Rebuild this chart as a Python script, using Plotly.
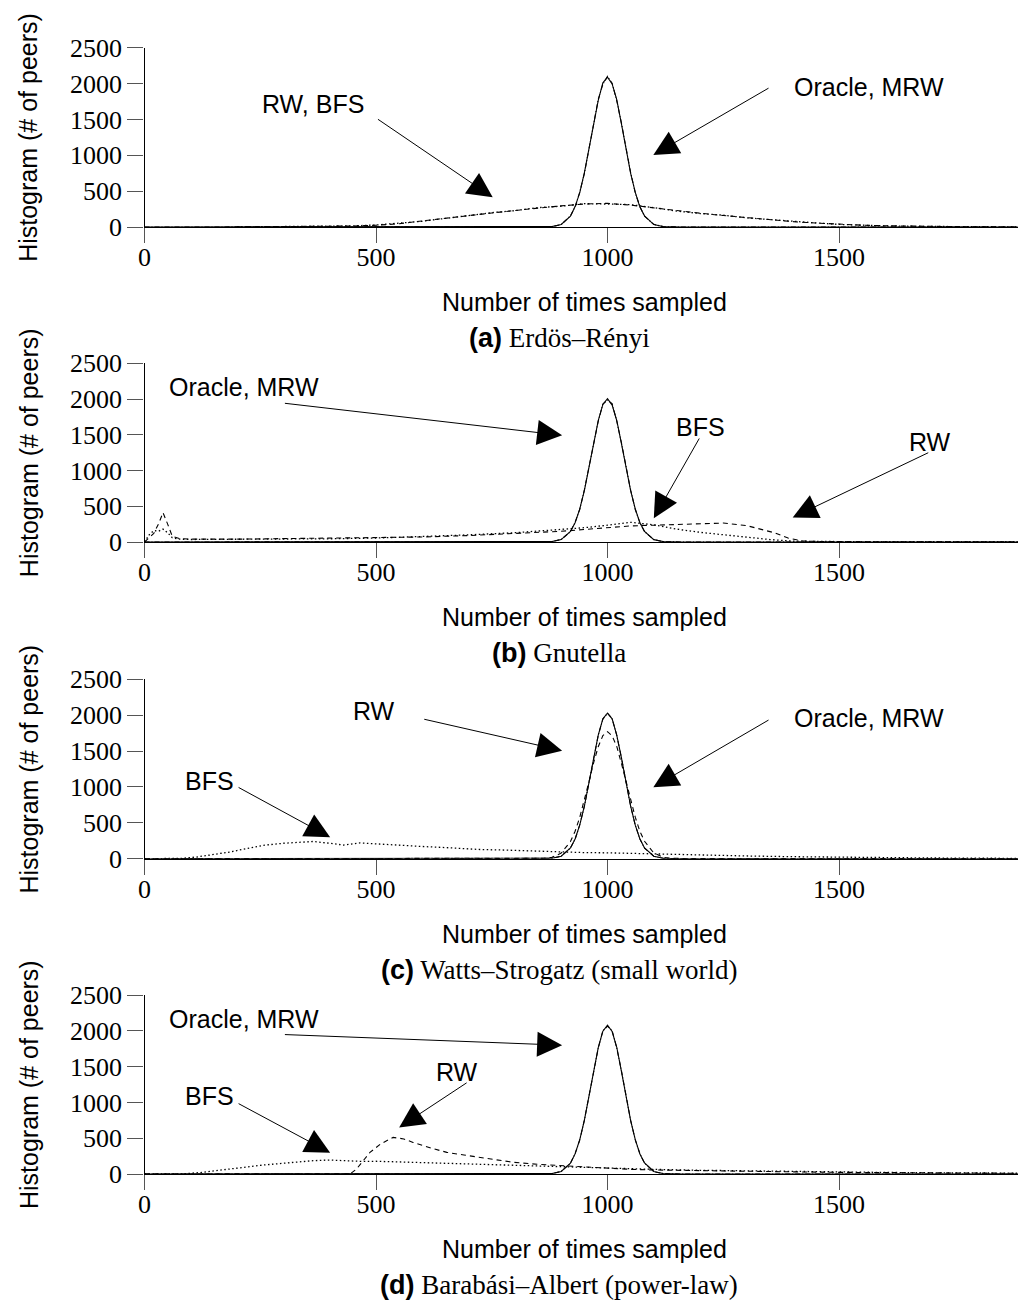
import plotly.graph_objects as go

W, H = 1018, 1304

# ---------------------------------------------------------------------------
# Histogram data: number of peers vs. number of times each peer was sampled
# ---------------------------------------------------------------------------
X_TICKS = [0, 500, 1000, 1500]
Y_TICKS = [0, 500, 1000, 1500, 2000, 2500]

# common sample grid for the narrow peaks around 1000
PEAK_X = [0, 840, 860, 880, 900, 920, 930, 940, 950, 960,
          970, 980, 990, 1000, 1010, 1020, 1030, 1040, 1050, 1060,
          1070, 1080, 1100, 1120, 1140, 1160, 1886]

# (a) Erdös–Rényi
ER_ORACLE = [0, 0, 1, 6, 36, 150, 285, 476, 755, 1080,
             1450, 1765, 2010, 2090, 1995, 1775, 1440, 1090, 748, 483,
             278, 155, 34, 6, 1, 0, 0]
ER_MRW = [0, 0, 1, 5, 33, 156, 278, 485, 745, 1092,
          1438, 1778, 1990, 2100, 2005, 1760, 1452, 1078, 757, 476,
          285, 150, 37, 5, 1, 0, 0]
ER_WIDE_X = [200, 300, 400, 450, 500, 550, 600, 650, 700, 750,
             800, 850, 900, 950, 1000, 1050, 1100, 1150, 1200, 1250,
             1300, 1350, 1400, 1450, 1500, 1550, 1600, 1700, 1800, 1886]
ER_RW = [0, 2, 8, 14, 25, 45, 85, 125, 160, 195,
         230, 265, 295, 320, 330, 305, 265, 225, 192, 160,
         132, 100, 75, 55, 38, 26, 17, 7, 2, 0]
ER_BFS = [0, 3, 9, 16, 28, 50, 80, 120, 165, 200,
          228, 270, 290, 325, 320, 312, 270, 222, 188, 165,
          128, 104, 72, 57, 36, 27, 15, 8, 3, 1]

# (b) Gnutella
GN_ORACLE = [0, 0, 1, 6, 34, 147, 270, 460, 720, 1042,
             1386, 1698, 1925, 2005, 1915, 1700, 1380, 1045, 718, 462,
             268, 148, 33, 6, 1, 0, 0]
GN_MRW = [0, 0, 1, 5, 36, 144, 274, 455, 728, 1035,
          1392, 1690, 1930, 1985, 1935, 1690, 1392, 1038, 725, 455,
          272, 145, 35, 5, 1, 0, 0]
GN_RW_X = [0, 10, 20, 30, 40, 50, 60, 75, 100, 200,
           300, 400, 500, 600, 700, 800, 900, 950, 1000, 1050,
           1100, 1150, 1200, 1250, 1300, 1340, 1360, 1390, 1420, 1450,
           1500, 1600, 1886]
GN_RW = [0, 60, 120, 250, 410, 250, 80, 50, 40, 40,
         45, 50, 55, 70, 90, 115, 150, 175, 200, 225,
         235, 245, 255, 265, 230, 170, 130, 55, 15, 8,
         5, 3, 2]
GN_BFS_X = [0, 10, 20, 30, 40, 50, 60, 75, 100, 200,
            300, 400, 500, 600, 700, 800, 900, 950, 1000, 1050,
            1100, 1150, 1200, 1250, 1300, 1350, 1400, 1450, 1500, 1886]
GN_BFS = [0, 100, 160, 150, 180, 130, 60, 40, 35, 35,
          40, 45, 55, 75, 100, 130, 170, 200, 235, 275,
          240, 180, 135, 100, 65, 35, 12, 8, 6, 5]

# (c) Watts–Strogatz
WS_ORACLE = [0, 0, 1, 6, 34, 149, 274, 467, 731, 1058,
             1407, 1723, 1949, 2030, 1949, 1723, 1407, 1058, 731, 467,
             274, 149, 34, 6, 1, 0, 0]
WS_MRW = [0, 0, 1, 6, 35, 150, 272, 470, 728, 1060,
          1402, 1720, 1945, 2025, 1952, 1718, 1410, 1055, 733, 465,
          276, 147, 34, 6, 1, 0, 0]
WS_RW = [0, 0, 4, 19, 78, 239, 382, 575, 811, 1074,
         1336, 1561, 1715, 1770, 1712, 1565, 1330, 1078, 808, 578,
         380, 242, 80, 20, 6, 3, 2]
WS_BFS_X = [0, 30, 80, 112, 150, 184, 220, 256, 300, 330,
            364, 400, 430, 465, 500, 545, 600, 650, 700, 725,
            780, 833, 905, 950, 1000, 1100, 1200, 1300, 1400, 1500,
            1600, 1700, 1800, 1886]
WS_BFS = [0, 0, 5, 23, 55, 93, 140, 186, 215, 225,
          240, 215, 190, 220, 205, 186, 170, 155, 135, 128,
          120, 107, 90, 85, 82, 65, 50, 38, 28, 20,
          14, 10, 7, 5]

# (d) Barabási–Albert
BA_ORACLE = [0, 0, 1, 6, 35, 153, 281, 478, 748, 1083,
             1440, 1764, 1995, 2078, 1990, 1770, 1436, 1085, 745, 480,
             279, 154, 35, 6, 1, 0, 0]
BA_MRW = [0, 0, 1, 6, 36, 150, 284, 472, 752, 1078,
          1446, 1758, 2000, 2065, 2002, 1760, 1445, 1080, 750, 476,
          283, 152, 34, 6, 1, 0, 0]
BA_RW_X = [0, 444, 458, 470, 487, 510, 537, 560, 580, 620,
           653, 690, 725, 760, 797, 850, 905, 950, 1000, 1050,
           1100, 1200, 1300, 1400, 1500, 1600, 1700, 1800, 1886]
BA_RW = [0, 0, 70, 170, 302, 420, 511, 490, 441, 360,
         302, 265, 232, 195, 163, 135, 116, 95, 80, 65,
         56, 45, 38, 30, 23, 18, 14, 11, 10]
BA_BFS_X = [0, 76, 120, 184, 220, 256, 300, 364, 400, 430,
            473, 500, 580, 650, 689, 750, 833, 905, 950, 1000,
            1100, 1200, 1300, 1400, 1500, 1600, 1700, 1800, 1886]
BA_BFS = [0, 0, 20, 70, 100, 125, 150, 186, 195, 185,
          175, 178, 163, 150, 140, 128, 116, 95, 90, 85,
          65, 52, 42, 35, 28, 22, 17, 14, 12]

CAPTIONS = [("(a)", "Erdös–Rényi"),
            ("(b)", "Gnutella"),
            ("(c)", "Watts–Strogatz (small world)"),
            ("(d)", "Barabási–Albert (power-law)")]

# line dash patterns per method
SOLID = "solid"
MRW_DASH = "5px,2px,1px,2px"
RW_DASH = "5px,4px"
BFS_DASH = "1.5px,2.5px"

# series per panel: (x, y, dash, width)
PANELS = [
    [(ER_WIDE_X, ER_BFS, BFS_DASH, 1.3), (ER_WIDE_X, ER_RW, RW_DASH, 1.1),
     (PEAK_X, ER_MRW, MRW_DASH, 1.1), (PEAK_X, ER_ORACLE, SOLID, 1.1)],
    [(GN_BFS_X, GN_BFS, BFS_DASH, 1.3), (GN_RW_X, GN_RW, RW_DASH, 1.1),
     (PEAK_X, GN_MRW, MRW_DASH, 1.1), (PEAK_X, GN_ORACLE, SOLID, 1.1)],
    [(WS_BFS_X, WS_BFS, BFS_DASH, 1.3), (PEAK_X, WS_RW, RW_DASH, 1.1),
     (PEAK_X, WS_MRW, MRW_DASH, 1.1), (PEAK_X, WS_ORACLE, SOLID, 1.1)],
    [(BA_BFS_X, BA_BFS, BFS_DASH, 1.3), (BA_RW_X, BA_RW, RW_DASH, 1.1),
     (PEAK_X, BA_MRW, MRW_DASH, 1.1), (PEAK_X, BA_ORACLE, SOLID, 1.1)],
]

# callouts per panel: (label, text_x, text_y, tail_x, tail_y, tip_x, tip_y)
CALLOUTS = [
    [("RW, BFS", 364, 1715, 501, 1516, 752, 414),
     ("Oracle, MRW", 1565, 1953, 1351, 1948, 1099, 1004)],
    [("Oracle, MRW", 215, 2162, 300, 1943, 902, 1492),
     ("BFS", 1200, 1604, 1200, 1469, 1100, 331),
     ("RW", 1696, 1395, 1696, 1259, 1400, 344)],
    [("RW", 495, 2060, 601, 1948, 902, 1506),
     ("Oracle, MRW", 1565, 1962, 1351, 1944, 1099, 996),
     ("BFS", 141, 1084, 200, 1004, 401, 298)],
    [("Oracle, MRW", 215, 2162, 300, 1948, 902, 1799),
     ("RW", 675, 1423, 699, 1287, 550, 651),
     ("BFS", 141, 1088, 200, 994, 401, 297)],
]

# ---------------------------------------------------------------------------
# Layout geometry (pixels)
# ---------------------------------------------------------------------------
PLOT_LEFT = 144.5
X_MAX = 1886.6
PANEL_TOP = [47.7, 363.3, 679.3, 995.0]
PANEL_BOTTOM = [227.0, 542.0, 858.7, 1174.0]

SANS = "Liberation Sans"
SERIF = "Liberation Serif"


def py(v):
    """pixel row -> paper y"""
    return 1 - v / H


def px(v):
    """pixel column -> paper x"""
    return v / W


fig = go.Figure()
annotations = []
layout_axes = {}

for i, series in enumerate(PANELS):
    xa = "x" if i == 0 else f"x{i + 1}"
    ya = "y" if i == 0 else f"y{i + 1}"
    for xs, ys, dash, lw in series:
        fig.add_trace(go.Scatter(
            x=xs, y=ys, mode="lines", xaxis=xa, yaxis=ya,
            line=dict(color="black", width=lw, dash=dash),
            showlegend=False, hoverinfo="skip"))

    layout_axes["xaxis" if i == 0 else f"xaxis{i + 1}"] = dict(
        domain=[px(PLOT_LEFT), 1.0], range=[0, X_MAX], anchor=ya,
        automargin=False,
        tickvals=X_TICKS, ticks="outside", ticklen=15, tickwidth=1,
        tickcolor="#555", showline=True, linecolor="black", linewidth=1.4,
        showgrid=False, zeroline=False, ticklabelstandoff=-8,
        tickfont=dict(family=SERIF, size=26, color="black"))
    layout_axes["yaxis" if i == 0 else f"yaxis{i + 1}"] = dict(
        domain=[py(PANEL_BOTTOM[i]), py(PANEL_TOP[i])], range=[0, 2500],
        anchor=xa, automargin=False, tickvals=Y_TICKS, ticks="outside",
        ticklen=16, tickwidth=1, tickcolor="#555", showline=True,
        linecolor="black", linewidth=1.4, showgrid=False, zeroline=False,
        ticklabelstandoff=0,
        tickfont=dict(family=SERIF, size=26, color="black"))

    # callout labels and arrows
    for label, tx, ty, ax_, ay_, hx, hy in CALLOUTS[i]:
        annotations.append(dict(
            x=tx, y=ty, xref=xa, yref=ya, text=label, showarrow=False,
            font=dict(family=SANS, size=25, color="black"),
            xanchor="center", yanchor="middle"))
        annotations.append(dict(
            x=hx, y=hy, xref=xa, yref=ya, ax=ax_, ay=ay_,
            axref=xa, ayref=ya, text="", showarrow=True,
            arrowhead=2, arrowsize=5, arrowwidth=1, arrowcolor="black",
            standoff=0, font=dict(size=1)))

    # axis titles
    mid = (PANEL_TOP[i] + PANEL_BOTTOM[i]) / 2
    annotations.append(dict(
        x=px(28.5), y=py(mid), xref="paper", yref="paper",
        text="Histogram (# of peers)", textangle=-90, showarrow=False,
        font=dict(family=SANS, size=25, color="black"),
        xanchor="center", yanchor="middle"))
    annotations.append(dict(
        x=px(584.5), y=py(PANEL_BOTTOM[i] + 75), xref="paper", yref="paper",
        text="Number of times sampled", showarrow=False,
        font=dict(family=SANS, size=25, color="black"),
        xanchor="center", yanchor="middle"))

    # sub-figure caption
    tag, name = CAPTIONS[i]
    annotations.append(dict(
        x=px(559), y=py(PANEL_BOTTOM[i] + 111), xref="paper", yref="paper",
        text=f"<span style='font-family:{SANS}'><b>{tag}</b></span> {name}",
        showarrow=False, font=dict(family=SERIF, size=27, color="black"),
        xanchor="center", yanchor="middle"))

fig.update_layout(
    template="none",
    width=W, height=H, margin=dict(l=0, r=0, t=0, b=0, autoexpand=False),
    paper_bgcolor="white", plot_bgcolor="white",
    showlegend=False, annotations=annotations, **layout_axes)

fig.write_html("out.html")
